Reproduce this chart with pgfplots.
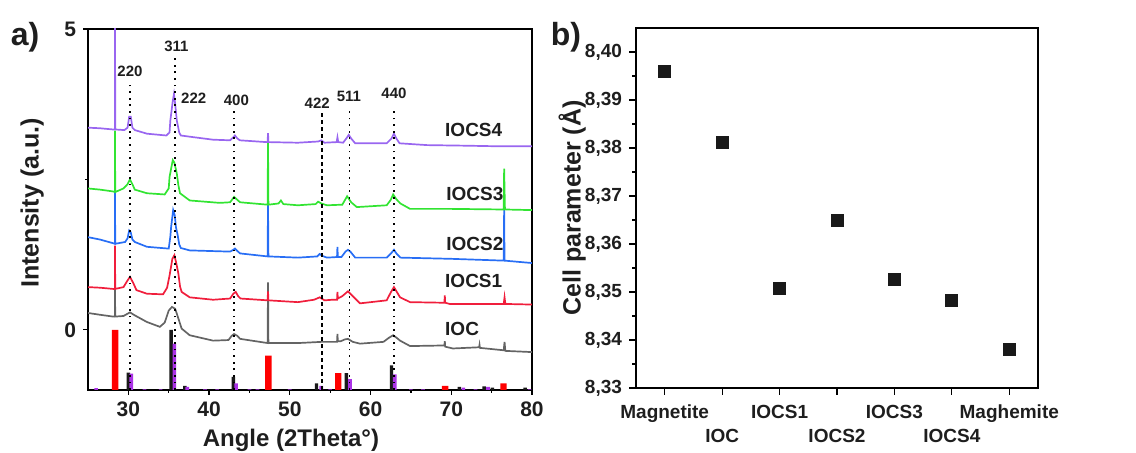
\documentclass[border=0pt]{standalone}
\usepackage{pgfplots}
\pgfplotsset{compat=1.18}
\usepackage{fontspec}
\setmainfont{Liberation Sans}
\definecolor{cP}{RGB}{153,102,240}
\definecolor{cG}{RGB}{50,228,50}
\definecolor{cB}{RGB}{40,110,245}
\definecolor{cR}{RGB}{240,30,60}
\definecolor{cK}{RGB}{100,100,100}
\definecolor{bR}{RGB}{255,0,0}
\definecolor{bK}{RGB}{25,25,25}
\definecolor{bV}{RGB}{170,50,230}
\definecolor{tx}{RGB}{30,30,30}
\pgfplotsset{
  cv/.style={line width=0.85pt, mark=none, y filter/.expression={y+1}},
  pk/.style={black, line width=0.9pt, dash pattern=on 0.9pt off 2.4pt},
}
\begin{document}
\begin{tikzpicture}
\useasboundingbox (0,0) rectangle (568pt,226.5pt);
\begin{axis}[
  at={(44pt,31.5pt)}, anchor=south west, scale only axis,
  width=222pt, height=180.5pt,
  xmin=25, xmax=80, ymin=0, ymax=6,
  xtick={30,40,50,60,70,80}, minor x tick num=1,
  ytick={1,6}, yticklabels={0,5}, minor ytick={3.5},
  tick pos=left, tick align=outside,
  major tick length=2.5pt, minor tick length=1.5pt,
  axis line style={line width=0.7pt},
  tick style={line width=0.6pt, black},
  ticklabel style={font=\bfseries\fontsize{10.5}{12}\selectfont, text=tx},
  /pgf/number format/assume math mode=true,
  xlabel={Angle (2Theta°)},
  xlabel style={at={(axis description cs:0.457,-0.1385)}, anchor=center, font=\bfseries\fontsize{12}{14}\selectfont, text=tx},
  ylabel={Intensity (a.u.)},
  ylabel style={at={(axis description cs:-0.126,0.518)}, anchor=center, font=\bfseries\fontsize{12.5}{14}\selectfont, text=tx},
]
% reference bars
\addplot[ybar, bar width=0.8, bar shift=0pt, fill=bR, draw=none] coordinates {
(28.35,1.0) (47.34,0.57) (56.0,0.28) (69.24,0.07) (76.47,0.11)};
\addplot[ybar, bar width=0.42, bar shift=0pt, fill=bK, draw=none] coordinates {
(30.0,0.29) (35.3,1.0) (37.0,0.07) (43.0,0.22) (53.3,0.11) (57.0,0.28) (62.6,0.41)
(71.0,0.05) (74.07,0.06) (75.1,0.04) (79.15,0.04)};
\addplot[ybar, bar width=0.45, bar shift=0pt, fill=bV, draw=none] coordinates {
(26.0,0.03) (30.35,0.27) (32.0,0.01) (34.0,0.01) (35.7,0.77) (37.3,0.05) (39.5,0.01)
(41.0,0.01) (43.35,0.11) (45.0,0.01) (46.0,0.01) (50.0,0.01) (53.9,0.07) (55.0,0.01)
(57.45,0.18) (63.0,0.26) (65.0,0.01) (66.5,0.01) (71.5,0.04) (73.0,0.01) (74.55,0.05) (79.7,0.01)};
% IOC
\addplot[cv, cK] coordinates {
(25.0,0.28) (26.5,0.25) (28.1,0.22) (28.33,0.22) (28.35,0.71) (28.37,0.22) (29.4,0.23)
(30.2,0.29) (30.8,0.24) (32.3,0.13) (33.9,0.05) (34.5,0.12) (35.0,0.32) (35.4,0.38)
(35.8,0.35) (36.0,0.27) (36.6,0.02) (37.6,-0.09) (40.5,-0.18) (42.4,-0.17) (42.8,-0.10)
(43.1,-0.07) (43.5,-0.10) (43.84,-0.15) (47.25,-0.22) (47.3,0.79) (47.35,-0.22) (51.0,-0.22)
(53.96,-0.20) (55.85,-0.20) (55.9,-0.07) (55.95,-0.19) (56.3,-0.19) (56.8,-0.16) (57.2,-0.15)
(57.8,-0.20) (58.7,-0.23) (61.6,-0.20) (62.3,-0.13) (62.8,-0.09) (63.3,-0.14) (63.66,-0.18)
(64.9,-0.27) (69.15,-0.26) (69.2,-0.19) (69.25,-0.28) (70.2,-0.31) (73.45,-0.29) (73.5,-0.25)
(73.55,-0.30) (76.5,-0.34) (76.6,-0.20) (76.7,-0.35) (80,-0.37)};
% IOCS1
\addplot[cv, cR] coordinates {
(25.0,0.71) (26.5,0.70) (28.1,0.68) (28.33,0.68) (28.35,1.40) (28.37,0.68) (29.4,0.71)
(29.8,0.80) (30.2,0.88) (30.6,0.78) (31.0,0.66) (32.3,0.60) (34.3,0.59) (34.8,0.70)
(35.1,0.90) (35.45,1.18) (35.7,1.24) (35.95,1.10) (36.2,0.93) (36.4,0.72) (36.6,0.63)
(37.6,0.54) (40.5,0.50) (42.6,0.52) (43.0,0.60) (43.3,0.63) (43.6,0.56) (43.9,0.52)
(47.25,0.49) (47.3,0.64) (47.35,0.49) (51.0,0.46) (53.0,0.50) (53.7,0.54) (54.3,0.49)
(55.3,0.50) (55.85,0.50) (55.9,0.63) (55.95,0.52) (56.5,0.56) (57.2,0.64) (57.8,0.56)
(58.7,0.44) (62.0,0.49) (62.5,0.62) (62.9,0.71) (63.3,0.62) (63.66,0.54) (64.9,0.46)
(69.15,0.45) (69.2,0.57) (69.25,0.45) (69.8,0.43) (76.5,0.43) (76.6,0.54) (76.7,0.43) (80,0.42)};
% IOCS2
\addplot[cv, cB] coordinates {
(25.0,1.54) (26.5,1.50) (28.1,1.44) (28.33,1.43) (28.35,2.35) (28.37,1.43) (29.6,1.46)
(29.9,1.52) (30.1,1.65) (30.3,1.62) (30.5,1.50) (30.8,1.46) (32.3,1.38) (35.0,1.35)
(35.2,1.55) (35.3,1.71) (35.55,1.99) (35.75,1.90) (35.9,1.70) (36.1,1.58) (36.3,1.42)
(36.5,1.36) (37.6,1.32) (42.6,1.30) (43.0,1.33) (43.2,1.35) (43.5,1.31) (43.84,1.27)
(47.25,1.22) (47.3,2.10) (47.35,1.22) (51.0,1.20) (53.4,1.22) (53.7,1.26) (54.0,1.23)
(54.6,1.20) (55.85,1.21) (55.9,1.38) (55.95,1.21) (56.4,1.21) (56.9,1.30) (57.2,1.33)
(57.5,1.30) (58.1,1.20) (62.0,1.20) (62.6,1.28) (62.9,1.33) (63.2,1.27) (63.7,1.20)
(70,1.18) (76.5,1.15) (76.55,1.99) (76.6,1.15) (80,1.11)};
% IOCS3
\addplot[cv, cG] coordinates {
(25.0,2.35) (26.5,2.33) (28.1,2.30) (28.33,2.29) (28.35,3.31) (28.37,2.29) (29.4,2.35)
(29.9,2.42) (30.2,2.50) (30.5,2.42) (30.8,2.33) (32.3,2.27) (34.5,2.25) (35.0,2.35)
(35.1,2.54) (35.5,2.82) (35.7,2.78) (36.0,2.60) (36.2,2.40) (36.4,2.27) (37.6,2.15)
(41.3,2.11) (42.6,2.12) (43.1,2.21) (43.5,2.16) (43.84,2.12) (47.25,2.08) (47.3,3.12)
(47.35,2.08) (48.6,2.10) (48.9,2.15) (49.2,2.09) (51.0,2.07) (53.2,2.09) (53.5,2.13)
(53.9,2.10) (54.6,2.07) (56.5,2.08) (57.1,2.22) (57.6,2.12) (58.3,2.04) (62.0,2.07)
(62.5,2.16) (62.8,2.25) (63.2,2.17) (63.7,2.10) (64.9,2.01) (70,2.01) (76.5,2.00)
(76.55,2.68) (76.65,2.00) (80,1.99)};
% IOCS4
\addplot[cv, cP] coordinates {
(25.0,3.36) (26.5,3.35) (28.1,3.33) (28.33,3.33) (28.35,6.0) (28.37,3.33) (29.5,3.32)
(29.9,3.36) (30.1,3.54) (30.3,3.54) (30.5,3.36) (30.8,3.32) (32.3,3.26) (34.7,3.23)
(35.1,3.28) (35.2,3.48) (35.5,3.80) (35.65,3.92) (35.8,3.75) (36.0,3.48) (36.3,3.28)
(36.5,3.23) (37.6,3.21) (40.5,3.16) (42.6,3.15) (43.0,3.20) (43.2,3.23) (43.5,3.18)
(43.8,3.15) (47.1,3.12) (47.25,3.12) (47.3,3.27) (47.35,3.12) (51.0,3.11) (53.5,3.13)
(53.9,3.15) (54.3,3.11) (55.8,3.12) (55.9,3.20) (56.0,3.12) (56.6,3.11) (57.0,3.18)
(57.3,3.24) (57.6,3.18) (58.1,3.10) (62.0,3.10) (62.6,3.18) (62.9,3.26) (63.2,3.18)
(63.6,3.10) (67.0,3.07) (72,3.06) (76,3.05) (80,3.05)};
% hkl guide lines
\addplot[pk] coordinates {(30.2,0) (30.2,5.1)};
\addplot[pk] coordinates {(35.75,0) (35.75,5.51)};
\addplot[pk] coordinates {(43.1,0) (43.1,4.68)};
\addplot[black, line width=0.8pt, dash pattern=on 2pt off 1.5pt] coordinates {(53.96,0) (53.96,4.6)};
\addplot[pk] coordinates {(57.4,0) (57.4,4.67)};
\addplot[pk] coordinates {(62.9,0) (62.9,4.70)};
% labels
\begin{scope}[every node/.style={font=\bfseries\fontsize{7.5}{8}\selectfont, text=tx, inner sep=0pt}]
\node at (axis cs:30.2,5.29) {220};
\node at (axis cs:35.95,5.71) {311};
\node at (axis cs:38.1,4.85) {222};
\node at (axis cs:43.38,4.82) {400};
\node at (axis cs:53.4,4.77) {422};
\node at (axis cs:57.33,4.88) {511};
\node at (axis cs:62.9,4.93) {440};
\end{scope}
\begin{scope}[every node/.style={font=\bfseries\fontsize{9.5}{10}\selectfont, text=tx, inner sep=0pt, anchor=west}]
\node at (axis cs:69.2,4.33) {IOCS4};
\node at (axis cs:69.35,3.26) {IOCS3};
\node at (axis cs:69.35,2.42) {IOCS2};
\node at (axis cs:69.2,1.81) {IOCS1};
\node at (axis cs:69.2,1.02) {IOC};
\end{scope}
\end{axis}

\begin{axis}[
  at={(318pt,32.5pt)}, anchor=south west, scale only axis,
  width=201pt, height=180pt,
  xmin=-0.5, xmax=6.5, ymin=8.33, ymax=8.405,
  xtick={0,1,2,3,4,5,6},
  xticklabels={{\strut Magnetite},{\strut\\\strut IOC},{\strut IOCS1},{\strut\\\strut IOCS2},{\strut IOCS3},{\strut\\\strut IOCS4},{\strut Maghemite}},
  xticklabel style={align=center, font=\bfseries\fontsize{9.5}{12}\selectfont, text=tx},
  ytick={8.33,8.34,8.35,8.36,8.37,8.38,8.39,8.40}, minor y tick num=1,
  yticklabel style={font=\bfseries\fontsize{9.5}{12}\selectfont, text=tx,
     /pgf/number format/.cd, fixed, fixed zerofill, precision=2, use comma},
  scaled y ticks=false,
  /pgf/number format/assume math mode=true,
  tick pos=left, tick align=outside,
  major tick length=3.5pt, minor tick length=2pt,
  axis line style={line width=0.7pt},
  tick style={line width=0.6pt, black},
  ylabel={Cell parameter (Å)},
  ylabel style={at={(axis description cs:-0.159,0.5)}, anchor=center, font=\bfseries\fontsize{12.5}{14}\selectfont, text=tx},
]
\addplot[only marks, mark=square*, mark size=3pt, color=bK] coordinates {
(0,8.396) (1,8.3811) (2,8.3507) (3,8.3649) (4,8.3527) (5,8.3482) (6,8.338)};
\end{axis}
\node[font=\bfseries\fontsize{16}{18}\selectfont, text=tx] at (12.5pt,208pt) {a)};
\node[font=\bfseries\fontsize{16}{18}\selectfont, text=tx] at (283pt,208pt) {b)};
\end{tikzpicture}
\end{document}
